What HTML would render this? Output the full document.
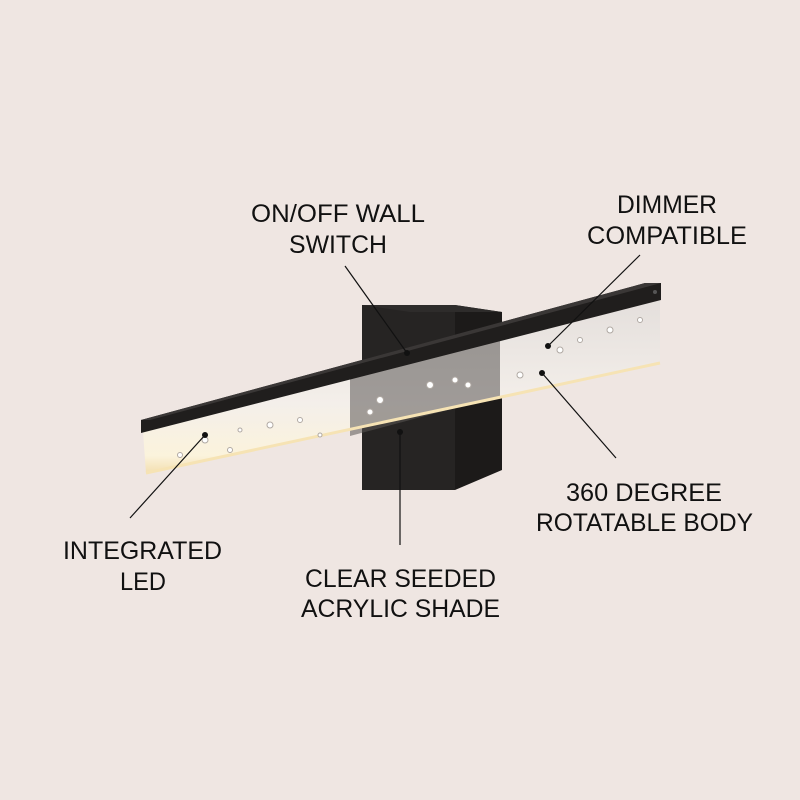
<!DOCTYPE html>
<html><head><style>html,body{margin:0;padding:0;background:#efe6e2;}svg{display:block}</style></head>
<body>
<svg width="800" height="800" viewBox="0 0 800 800" xmlns="http://www.w3.org/2000/svg">
<defs>
<linearGradient id="ac" x1="0" y1="0" x2="0" y2="1">
<stop offset="0" stop-color="#e4dfdc"/><stop offset="0.6" stop-color="#f4efea"/><stop offset="0.9" stop-color="#fbf3dc"/><stop offset="1" stop-color="#f3dfb0"/>
</linearGradient>
</defs>
<rect width="800" height="800" fill="#efe6e2"/>
<polygon points="455,305 502,312 502,470 455,490" fill="#1c1a19"/>
<rect x="362" y="305" width="93" height="185" fill="#262423"/>
<polygon points="362,305 455,305 502,312 410,312" fill="#2e2c2b"/>
<polygon points="143,432 660,300 660,363 146,473" fill="url(#ac)"/>
<polygon points="350,378 500,340 500,396 350,436" fill="#5a5653" opacity="0.55"/>
<line x1="146" y1="473" x2="660" y2="363" stroke="#f6e3b4" stroke-width="3"/>
<g fill="#fff" stroke="#b0a9a3" stroke-width="1">
<circle cx="205" cy="440" r="3"/><circle cx="230" cy="450" r="2.5"/><circle cx="270" cy="425" r="3"/><circle cx="300" cy="420" r="2.5"/><circle cx="320" cy="435" r="2"/><circle cx="380" cy="400" r="3.5"/><circle cx="370" cy="412" r="3"/><circle cx="430" cy="385" r="3.5"/><circle cx="455" cy="380" r="3"/><circle cx="468" cy="385" r="3"/><circle cx="520" cy="375" r="3"/><circle cx="560" cy="350" r="3"/><circle cx="580" cy="340" r="2.5"/><circle cx="610" cy="330" r="3"/><circle cx="640" cy="320" r="2.5"/><circle cx="240" cy="430" r="2"/><circle cx="180" cy="455" r="2.5"/>
</g>
<polygon points="141,420 645,283 661,283 661,300 141,433" fill="#201e1d"/>
<polygon points="141,420 645,283 661,283 150,420" fill="#3a3736"/>
<circle cx="655" cy="292" r="2" fill="#555"/>
<g stroke="#111" stroke-width="1.2">
<line x1="345" y1="266" x2="407" y2="353"/>
<line x1="640" y1="255" x2="548" y2="346"/>
<line x1="542" y1="373" x2="616" y2="458"/>
<line x1="205" y1="435" x2="130" y2="518"/>
<line x1="400" y1="432" x2="400" y2="545"/>
</g>
<g fill="#111">
<circle cx="407" cy="353" r="3"/><circle cx="548" cy="346" r="3"/><circle cx="542" cy="373" r="3"/><circle cx="205" cy="435" r="3"/><circle cx="400" cy="432" r="3"/>
</g>
<g font-family="Liberation Sans, sans-serif" font-size="25" fill="#111">
<text x="251" y="222" textLength="174" lengthAdjust="spacingAndGlyphs">ON/OFF WALL</text>
<text x="289" y="253" textLength="98" lengthAdjust="spacingAndGlyphs">SWITCH</text>
<text x="617" y="213" textLength="100" lengthAdjust="spacingAndGlyphs">DIMMER</text>
<text x="587" y="244" textLength="160" lengthAdjust="spacingAndGlyphs">COMPATIBLE</text>
<text x="566" y="501" textLength="156" lengthAdjust="spacingAndGlyphs">360 DEGREE</text>
<text x="536" y="531" textLength="217" lengthAdjust="spacingAndGlyphs">ROTATABLE BODY</text>
<text x="63" y="559" textLength="159" lengthAdjust="spacingAndGlyphs">INTEGRATED</text>
<text x="120" y="590" textLength="46" lengthAdjust="spacingAndGlyphs">LED</text>
<text x="305" y="587" textLength="191" lengthAdjust="spacingAndGlyphs">CLEAR SEEDED</text>
<text x="301" y="617" textLength="199" lengthAdjust="spacingAndGlyphs">ACRYLIC SHADE</text>
</g>
</svg>
</body></html>
